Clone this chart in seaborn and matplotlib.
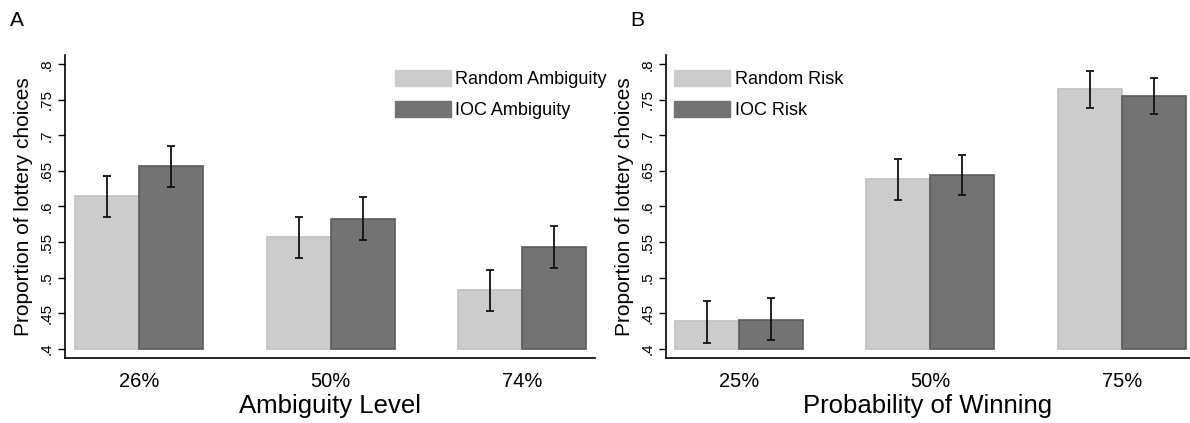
import numpy as np
import pandas as pd
import seaborn as sns
import matplotlib.pyplot as plt
from matplotlib.patches import Patch

# panel A: ambiguity
amb_levels = ["26%", "50%", "74%"]
amb_random = [0.615, 0.557, 0.482]
amb_random_lo = [0.585, 0.527, 0.453]
amb_random_hi = [0.643, 0.585, 0.511]
amb_ioc = [0.6565, 0.583, 0.5426]
amb_ioc_lo = [0.628, 0.553, 0.513]
amb_ioc_hi = [0.6855, 0.613, 0.573]

# panel B: risk
risk_levels = ["25%", "50%", "75%"]
risk_random = [0.4385, 0.638, 0.765]
risk_random_lo = [0.408, 0.6096, 0.739]
risk_random_hi = [0.4675, 0.667, 0.79]
risk_ioc = [0.441, 0.644, 0.755]
risk_ioc_lo = [0.412, 0.6157, 0.7297]
risk_ioc_hi = [0.471, 0.672, 0.780]

yticks = [0.4, 0.45, 0.5, 0.55, 0.6, 0.65, 0.7, 0.75, 0.8]
ytick_labels = [".4", ".45", ".5", ".55", ".6", ".65", ".7", ".75", ".8"]

base = 0.4
light, dark = "#cccccc", "#737373"
light_edge, dark_edge = "#c0c0c0", "#5a5a5a"

sns.set_theme(style="white")
plt.rcParams["font.family"] = ["Liberation Sans", "DejaVu Sans"]
plt.rcParams.update({"text.color": "black", "axes.labelcolor": "black",
                     "xtick.color": "black", "ytick.color": "black"})


def panel(ax, levels, names, rand, rand_lo, rand_hi, ioc, ioc_lo, ioc_hi, xlabel, leg_x):
    df = pd.DataFrame({
        "level": levels * 2,
        "group": [names[0]] * 3 + [names[1]] * 3,
        "height": [v - base for v in rand + ioc],
    })
    sns.barplot(data=df, x="level", y="height", hue="group", order=levels,
                hue_order=names, palette=[light, dark], width=0.668, gap=0,
                errorbar=None, bottom=base, linewidth=1.2, saturation=1,
                legend=False, ax=ax)
    edges = [light_edge, dark_edge]
    lows = [rand_lo, ioc_lo]
    highs = [rand_hi, ioc_hi]
    vals = [rand, ioc]
    for k, cont in enumerate(ax.containers[:2]):
        xs = []
        for p in cont.patches:
            p.set_edgecolor(edges[k])
            xs.append(p.get_x() + p.get_width() / 2)
        v = np.array(vals[k])
        err = [v - np.array(lows[k]), np.array(highs[k]) - v]
        ax.errorbar(xs, v, yerr=err, fmt="none", ecolor="#111111",
                    elinewidth=1.3, capsize=3, capthick=1.3, zorder=5)

    ax.set_ylim(0.3865, 0.813)
    ax.set_yticks(yticks)
    ax.set_yticklabels(ytick_labels, rotation=90, va="center", fontsize=11)
    ax.tick_params(axis="y", length=5, width=1, pad=3, left=True)
    ax.tick_params(axis="x", length=0, pad=10, labelsize=14.5)
    ax.set_ylabel("Proportion of lottery choices", fontsize=15, labelpad=5)
    ax.set_xlabel(xlabel, fontsize=18.5, labelpad=2)
    sns.despine(ax=ax)
    for s in ["left", "bottom"]:
        ax.spines[s].set_color("black")
        ax.spines[s].set_linewidth(1.2)

    handles = [Patch(facecolor=light, edgecolor=light),
               Patch(facecolor=dark, edgecolor=dark)]
    ax.legend(handles, names, loc="upper left", bbox_to_anchor=(leg_x, 0.95),
              frameon=False, fontsize=13, handlelength=3.1, handleheight=1.0,
              handletextpad=0.25, labelspacing=0.7, borderpad=0,
              borderaxespad=0)


fig = plt.figure(figsize=(11.9, 4.23), dpi=100)
ax1 = fig.add_axes([0.0546, 0.153, 0.4454, 0.717])
ax2 = fig.add_axes([0.5597, 0.153, 0.4403, 0.717])

panel(ax1, amb_levels, ["Random Ambiguity", "IOC Ambiguity"],
      amb_random, amb_random_lo, amb_random_hi,
      amb_ioc, amb_ioc_lo, amb_ioc_hi, "Ambiguity Level", 0.6226)
ax1.set_xlim(-0.386, 2.38)

panel(ax2, risk_levels, ["Random Risk", "IOC Risk"],
      risk_random, risk_random_lo, risk_random_hi,
      risk_ioc, risk_ioc_lo, risk_ioc_hi, "Probability of Winning", 0.0153)
ax2.set_xlim(-0.38, 2.355)

fig.text(10 / 1190, 1 - 21 / 423, "A", fontsize=15, va="center", ha="left")
fig.text(630 / 1190, 1 - 21 / 423, "B", fontsize=15, va="center", ha="left")

fig.savefig("out.png", dpi=100)
